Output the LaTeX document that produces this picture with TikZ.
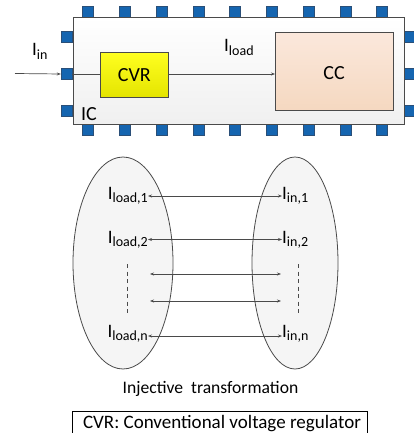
\documentclass[tikz,border=0pt]{standalone}
\usepackage{fontspec}
\setmainfont{Carlito}
\usetikzlibrary{arrows.meta,shapes.geometric}
\definecolor{pinblue}{HTML}{1565B0}
\definecolor{pinedge}{HTML}{2A4F78}
\definecolor{edgegray}{HTML}{4A4A4A}
\definecolor{cvrtop}{HTML}{FFFF20}
\definecolor{cvrbot}{HTML}{E4E400}
\definecolor{cctop}{HTML}{FBE8DC}
\definecolor{ccbot}{HTML}{F5D8C0}
% current symbol with a lowered index
\newcommand{\curr}[1]{I\raisebox{-3.5pt}{\fontsize{14}{16}\selectfont #1}}
\tikzset{
  pin/.style={fill=pinblue, draw=pinedge, line width=0.4pt, minimum width=11pt, minimum height=11pt, inner sep=0pt},
  block/.style={draw=edgegray, line width=0.8pt, inner sep=0pt},
  conn/.style={draw=edgegray, line width=0.7pt},
  sarrow/.style={conn, -{Stealth[length=4pt,width=3pt]}},
  darrow/.style={conn, {Stealth[length=4pt,width=3pt]}-{Stealth[length=4pt,width=3pt]}},
  setell/.style={draw=edgegray, line width=0.8pt, fill=gray!8},
  lbl/.style={inner sep=0pt, font=\fontsize{19}{22}\selectfont},
  dotline/.style={conn, line width=1pt, dash pattern=on 4pt off 3.5pt}
}
\begin{document}
\begin{tikzpicture}[x=1pt,y=-1pt]
\useasboundingbox (0,0) rectangle (413,433);

% chip pins (top, bottom, left, right)
\foreach \k in {0,...,8} {
  \node[pin] (pt\k) at ({88+36.75*\k},11.5) {};
  \node[pin] (pb\k) at ({88+36.75*\k},129.5) {};
}
\foreach \k/\yy in {1/37,2/74,3/111} {
  \node[pin] (pl\k) at (66.5,\yy) {};
  \node[pin] (pr\k) at (409.5,\yy) {};
}

% chip body
\node[block, top color=white, bottom color=gray!12, minimum width=331pt, minimum height=107pt, anchor=north west] (ic) at (73,17) {};
\node[anchor=south west, inner sep=0pt, font=\fontsize{20}{24}\selectfont] (iclbl) at (81,120.5) {IC};

% blocks inside the chip
\node[block, top color=cvrtop, bottom color=cvrbot, minimum width=68pt, minimum height=45pt, anchor=north west, font=\fontsize{20}{24}\selectfont] (cvr) at (100,52) {CVR};
\node[block, top color=cctop, bottom color=ccbot, minimum width=118pt, minimum height=78pt, anchor=north west] (cc) at (275,32) {};
\node[font=\fontsize{20}{24}\selectfont] (cclbl) at (334,73) {CC};

% current path
\coordinate (src) at (15,73.5);
\draw[sarrow] (src) -- (pl2.west);
\draw[conn] (pl2.east) -- (cvr.west |- pl2.east);
\draw[sarrow] (cvr.east |- pl2.east) -- (cc.west |- pl2.east);
\node[lbl, anchor=base west] (iin) at (32,56) {\curr{in}};
\node[lbl, anchor=base west] (iload) at (224,52) {\curr{load}};

% the two sets
\node[setell, ellipse, minimum width=100pt, minimum height=212pt, inner sep=0pt] (lset) at (123,263) {};
\node[setell, ellipse, minimum width=86pt, minimum height=212pt, inner sep=0pt] (rset) at (295,263) {};

\node[lbl, anchor=base east] (l1) at (148,199) {\curr{load,1}};
\node[lbl, anchor=base east] (l2) at (148,243) {\curr{load,2}};
\node[lbl, anchor=base east] (ln) at (148,337) {\curr{load,n}};
\node[lbl, anchor=base west] (r1) at (282,199) {\curr{in,1}};
\node[lbl, anchor=base west] (r2) at (282,243) {\curr{in,2}};
\node[lbl, anchor=base west] (rn) at (282,337) {\curr{in,n}};

\coordinate (a3l) at (150,274);
\coordinate (a3r) at (281,274);
\coordinate (a4l) at (150,301);
\coordinate (a4r) at (281,301);
\coordinate (dlt) at (127,264);
\coordinate (dlb) at (127,313);
\coordinate (drt) at (298,264);
\coordinate (drb) at (298,313);

\draw[darrow] (l1.east |- 0,196) -- (r1.west |- 0,196);
\draw[darrow] (l2.east |- 0,239.5) -- (r2.west |- 0,239.5);
\draw[darrow] (a3l) -- (a3r);
\draw[darrow] (a4l) -- (a4r);
\draw[darrow] (ln.east |- 0,336) -- (rn.west |- 0,336);
\draw[dotline] (dlt) -- (dlb);
\draw[dotline] (drt) -- (drb);

\node[font=\fontsize{17.6}{20}\selectfont] (inj) at (210.5,389) {Injective\ \ transformation};
\node[draw=black, line width=0.8pt, minimum width=295pt, minimum height=30pt, anchor=north west, inner sep=0pt] (legbox) at (72,411) {};
\node[font=\fontsize{19}{22}\selectfont, anchor=base] (leg) at (222,428.5) {CVR: Conventional voltage regulator};
\end{tikzpicture}
\end{document}
